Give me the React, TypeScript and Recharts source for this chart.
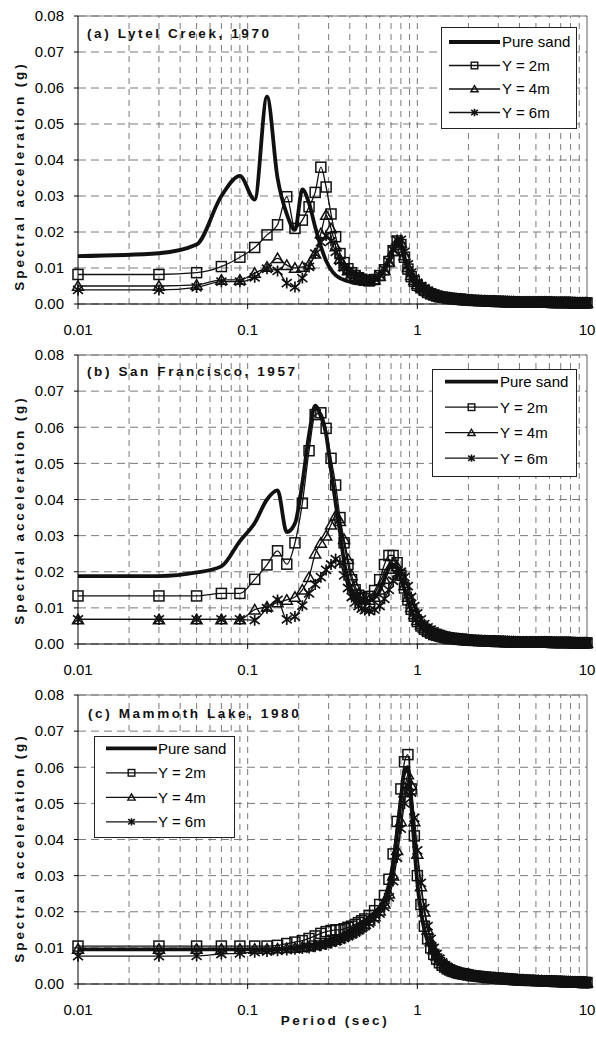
import React from 'react';
import { LineChart, Line, XAxis, YAxis, CartesianGrid, ReferenceLine } from 'recharts';

const FONT = '"Liberation Sans", Arial, Helvetica, sans-serif';

// Periods (sec)
const P_HEAD = [0.01, 0.03, 0.05, 0.07, 0.09, 0.11, 0.13, 0.15, 0.17, 0.19, 0.21, 0.23, 0.25, 0.27, 0.29, 0.31, 0.33, 0.35, 0.37, 0.39, 0.41, 0.43, 0.45, 0.47, 0.49, 0.52, 0.56, 0.6, 0.64, 0.68, 0.72, 0.76, 0.8, 0.84, 0.88, 0.92, 0.96, 1.0];
const P_MID = [1.05, 1.1, 1.15, 1.2, 1.25, 1.3, 1.35, 1.4, 1.45, 1.5, 1.55, 1.6, 1.65, 1.7, 1.75, 1.8, 1.85, 1.9, 1.95, 2];
const P_TAIL = [2.1, 2.2, 2.3, 2.4, 2.5, 2.6, 2.7, 2.8, 2.9, 3, 3.1, 3.2, 3.3, 3.4, 3.5, 3.6, 3.7, 3.8, 3.9, 4, 4.2, 4.4, 4.6, 4.8, 5, 5.2, 5.4, 5.6, 5.8, 6, 6.2, 6.4, 6.6, 6.8, 7, 7.2, 7.4, 7.6, 7.8, 8, 8.2, 8.4, 8.6, 8.8, 9, 9.2, 9.4, 9.6, 9.8, 10];
const PERIODS = [...P_HEAD, ...P_MID, ...P_TAIL];

const X_TICKS = [0.01, 0.1, 1, 10];
const Y_TICKS = [0, 0.01, 0.02, 0.03, 0.04, 0.05, 0.06, 0.07, 0.08];
const X_MINOR = [0.02, 0.03, 0.04, 0.05, 0.06, 0.07, 0.08, 0.09, 0.1, 0.2, 0.3, 0.4, 0.5, 0.6, 0.7, 0.8, 0.9, 1, 2, 3, 4, 5, 6, 7, 8, 9];

const SERIES_NAMES = ['Pure sand', 'Y = 2m', 'Y = 4m', 'Y = 6m'];

// (a) Lytel Creek, 1970  (values 0.01 .. 2.0 s)
const A_SAND = [0.0133, 0.0141, 0.0165, 0.030, 0.0356, 0.029, 0.0576, 0.035, 0.025, 0.0206, 0.0318, 0.028, 0.0214, 0.016, 0.012, 0.0095, 0.008, 0.0072, 0.0067, 0.0063, 0.006, 0.0058, 0.0057, 0.0056, 0.0056, 0.0058, 0.0065, 0.0078, 0.0095, 0.012, 0.015, 0.0172, 0.016, 0.0125, 0.0092, 0.0072, 0.006, 0.0048,
  0.0041, 0.0035, 0.003, 0.0026, 0.0023, 0.0021, 0.0019, 0.0018, 0.0017, 0.0016, 0.0015, 0.0014, 0.0014, 0.0013, 0.0013, 0.0012, 0.0012, 0.0011, 0.0011, 0.001];
const A_Y2 = [0.0082, 0.0082, 0.0087, 0.0104, 0.013, 0.0157, 0.0192, 0.022, 0.0298, 0.021, 0.0233, 0.027, 0.031, 0.038, 0.0325, 0.025, 0.0187, 0.014, 0.0115, 0.0098, 0.0087, 0.0079, 0.0073, 0.0069, 0.0066, 0.0064, 0.0068, 0.0079, 0.0095, 0.0118, 0.0148, 0.0175, 0.0165, 0.013, 0.0097, 0.0076, 0.0063, 0.0052,
  0.0045, 0.0038, 0.0032, 0.0028, 0.0025, 0.0022, 0.002, 0.0019, 0.0018, 0.0017, 0.0016, 0.0015, 0.0014, 0.0014, 0.0013, 0.0013, 0.0012, 0.0012, 0.0011, 0.0011];
const A_Y4 = [0.005, 0.005, 0.0053, 0.0067, 0.0067, 0.0086, 0.0103, 0.0127, 0.0108, 0.01, 0.0103, 0.011, 0.014, 0.0196, 0.0247, 0.021, 0.016, 0.0125, 0.0105, 0.0093, 0.0085, 0.0078, 0.0072, 0.0068, 0.0065, 0.0064, 0.0068, 0.0078, 0.0094, 0.0117, 0.0147, 0.0174, 0.017, 0.0135, 0.0102, 0.008, 0.0066, 0.0055,
  0.0047, 0.004, 0.0034, 0.003, 0.0026, 0.0023, 0.0021, 0.002, 0.0018, 0.0017, 0.0016, 0.0015, 0.0015, 0.0014, 0.0013, 0.0013, 0.0012, 0.0012, 0.0011, 0.0011];
const A_Y6 = [0.0039, 0.0039, 0.0046, 0.0062, 0.0062, 0.0074, 0.0098, 0.0092, 0.0058, 0.0047, 0.0072, 0.0103, 0.014, 0.0172, 0.019, 0.0175, 0.0145, 0.012, 0.0102, 0.0092, 0.0085, 0.0079, 0.0074, 0.007, 0.0068, 0.0067, 0.007, 0.008, 0.0096, 0.0119, 0.015, 0.0178, 0.0178, 0.0145, 0.011, 0.0087, 0.0071, 0.0059,
  0.005, 0.0043, 0.0037, 0.0032, 0.0028, 0.0025, 0.0022, 0.0021, 0.0019, 0.0018, 0.0017, 0.0016, 0.0015, 0.0014, 0.0014, 0.0013, 0.0013, 0.0012, 0.0012, 0.0011];

// (b) San Francisco, 1957
const B_SAND = [0.0188, 0.0188, 0.0198, 0.0215, 0.0285, 0.0335, 0.040, 0.0425, 0.031, 0.0334, 0.0445, 0.058, 0.066, 0.063, 0.058, 0.048, 0.039, 0.031, 0.0228, 0.0177, 0.015, 0.0135, 0.0125, 0.012, 0.0118, 0.012, 0.0128, 0.0148, 0.018, 0.021, 0.022, 0.021, 0.018, 0.015, 0.0118, 0.0092, 0.0072, 0.0058,
  0.0047, 0.0039, 0.0033, 0.0029, 0.0025, 0.0023, 0.0021, 0.0019, 0.0018, 0.0017, 0.0016, 0.0015, 0.0014, 0.0014, 0.0013, 0.0013, 0.0012, 0.0012, 0.0011, 0.0011];
const B_Y2 = [0.0133, 0.0133, 0.0133, 0.014, 0.014, 0.0179, 0.0219, 0.0258, 0.0221, 0.028, 0.039, 0.0535, 0.0635, 0.064, 0.0597, 0.0514, 0.044, 0.035, 0.028, 0.022, 0.0178, 0.015, 0.0135, 0.0128, 0.0126, 0.0132, 0.0148, 0.0178, 0.022, 0.0245, 0.0245, 0.0225, 0.019, 0.0155, 0.0122, 0.0096, 0.0077, 0.0062,
  0.005, 0.0041, 0.0035, 0.003, 0.0026, 0.0024, 0.0022, 0.002, 0.0018, 0.0017, 0.0016, 0.0015, 0.0015, 0.0014, 0.0013, 0.0013, 0.0012, 0.0012, 0.0011, 0.0011];
const B_Y4 = [0.0068, 0.0068, 0.0068, 0.0068, 0.0068, 0.0095, 0.0103, 0.0115, 0.0122, 0.013, 0.015, 0.0185, 0.025, 0.028, 0.03, 0.033, 0.0355, 0.034, 0.029, 0.0235, 0.019, 0.016, 0.014, 0.013, 0.0123, 0.0122, 0.013, 0.015, 0.018, 0.0208, 0.0222, 0.0215, 0.0192, 0.0162, 0.013, 0.0102, 0.0082, 0.0066,
  0.0054, 0.0044, 0.0037, 0.0032, 0.0028, 0.0025, 0.0023, 0.0021, 0.0019, 0.0018, 0.0017, 0.0016, 0.0015, 0.0014, 0.0014, 0.0013, 0.0013, 0.0012, 0.0012, 0.0011];
const B_Y6 = [0.0068, 0.0068, 0.0068, 0.0068, 0.0068, 0.0066, 0.0099, 0.0122, 0.0068, 0.0076, 0.0106, 0.014, 0.0165, 0.0185, 0.0205, 0.022, 0.0235, 0.0225, 0.019, 0.0155, 0.013, 0.0115, 0.0105, 0.0098, 0.0094, 0.0092, 0.0095, 0.0105, 0.0125, 0.015, 0.0175, 0.0195, 0.02, 0.0185, 0.016, 0.013, 0.0105, 0.0085,
  0.0068, 0.0055, 0.0046, 0.004, 0.0035, 0.0031, 0.0028, 0.0025, 0.0023, 0.0021, 0.002, 0.0018, 0.0017, 0.0016, 0.0015, 0.0015, 0.0014, 0.0013, 0.0013, 0.0012];

// (c) Mammoth Lake, 1980
const C_SAND = [0.0096, 0.0096, 0.0096, 0.0096, 0.0096, 0.0096, 0.0096, 0.0097, 0.0098, 0.01, 0.0102, 0.0105, 0.011, 0.0115, 0.012, 0.0125, 0.013, 0.0135, 0.014, 0.0145, 0.015, 0.0155, 0.016, 0.0167, 0.0174, 0.0183, 0.0195, 0.021, 0.0232, 0.027, 0.033, 0.042, 0.051, 0.059, 0.06, 0.05, 0.038, 0.028,
  0.02, 0.015, 0.0118, 0.0095, 0.0078, 0.0066, 0.0057, 0.005, 0.0045, 0.0041, 0.0038, 0.0035, 0.0033, 0.0031, 0.0029, 0.0028, 0.0027, 0.0026, 0.0025, 0.0024];
const C_Y2 = [0.0105, 0.0105, 0.0105, 0.0105, 0.0105, 0.0105, 0.0105, 0.0107, 0.0112, 0.0116, 0.012, 0.0126, 0.0133, 0.014, 0.0145, 0.0148, 0.015, 0.015, 0.0153, 0.0157, 0.016, 0.0165, 0.017, 0.0175, 0.018, 0.019, 0.0203, 0.022, 0.0245, 0.029, 0.036, 0.045, 0.054, 0.0615, 0.0635, 0.054, 0.041, 0.03,
  0.022, 0.016, 0.0125, 0.01, 0.0082, 0.0069, 0.0059, 0.0052, 0.0047, 0.0042, 0.0039, 0.0036, 0.0034, 0.0032, 0.003, 0.0029, 0.0028, 0.0027, 0.0026, 0.0025];
const C_Y4 = [0.0097, 0.0097, 0.0097, 0.0097, 0.0097, 0.0097, 0.0097, 0.0098, 0.0099, 0.01, 0.0102, 0.0104, 0.0107, 0.011, 0.0114, 0.0118, 0.0122, 0.0127, 0.0132, 0.0137, 0.0142, 0.0148, 0.0154, 0.016, 0.0166, 0.0175, 0.0187, 0.0203, 0.0222, 0.025, 0.03, 0.037, 0.045, 0.053, 0.058, 0.055, 0.045, 0.036,
  0.027, 0.02, 0.015, 0.0118, 0.0095, 0.0078, 0.0066, 0.0057, 0.005, 0.0045, 0.0041, 0.0038, 0.0035, 0.0033, 0.0031, 0.003, 0.0028, 0.0027, 0.0026, 0.0025];
const C_Y6 = [0.0077, 0.0077, 0.0078, 0.0083, 0.0085, 0.0088, 0.009, 0.0092, 0.0094, 0.0096, 0.0098, 0.01, 0.0103, 0.0106, 0.011, 0.0114, 0.0118, 0.0122, 0.0127, 0.0132, 0.0137, 0.0142, 0.0148, 0.0154, 0.016, 0.0168, 0.018, 0.0195, 0.0213, 0.024, 0.0285, 0.035, 0.043, 0.05, 0.055, 0.053, 0.046, 0.037,
  0.028, 0.021, 0.016, 0.0125, 0.01, 0.0083, 0.007, 0.006, 0.0052, 0.0047, 0.0043, 0.0039, 0.0036, 0.0034, 0.0032, 0.003, 0.0029, 0.0028, 0.0027, 0.0026];

// Long-period tails (2.1 .. 10 s), where all curves merge
const TAIL_AB = [0.001, 0.001, 0.0009, 0.0009, 0.0009, 0.0008, 0.0008, 0.0008, 0.0007, 0.0007, 0.0007, 0.0007, 0.0006, 0.0006, 0.0006, 0.0006, 0.0006, 0.0005, 0.0005, 0.0005,
  0.0005, 0.0005, 0.0005, 0.0005, 0.0005, 0.0005, 0.0005, 0.0005, 0.0005, 0.0005, 0.0004, 0.0004, 0.0004, 0.0004, 0.0004, 0.0004, 0.0004, 0.0004, 0.0004, 0.0004,
  0.0003, 0.0003, 0.0003, 0.0003, 0.0003, 0.0003, 0.0003, 0.0003, 0.0003, 0.0003];
const TAIL_C = [0.0023, 0.0022, 0.0021, 0.002, 0.0019, 0.0018, 0.0018, 0.0017, 0.0016, 0.0016, 0.0015, 0.0015, 0.0014, 0.0014, 0.0013, 0.0013, 0.0012, 0.0012, 0.0012, 0.0011,
  0.0011, 0.001, 0.001, 0.001, 0.0009, 0.0009, 0.0009, 0.0008, 0.0008, 0.0008, 0.0008, 0.0007, 0.0007, 0.0007, 0.0007, 0.0006, 0.0006, 0.0006, 0.0006, 0.0006,
  0.0005, 0.0005, 0.0005, 0.0005, 0.0005, 0.0005, 0.0004, 0.0004, 0.0004, 0.0004];

const buildRows = (sand: number[], y2: number[], y4: number[], y6: number[], tail: number[]) => {
  const s = sand.concat(tail), a = y2.concat(tail), b = y4.concat(tail), c = y6.concat(tail);
  return PERIODS.map((p, i) => ({ p, sand: s[i], y2: a[i], y4: b[i], y6: c[i] }));
};

const DATA_A = buildRows(A_SAND, A_Y2, A_Y4, A_Y6, TAIL_AB);
const DATA_B = buildRows(B_SAND, B_Y2, B_Y4, B_Y6, TAIL_AB);
const DATA_C = buildRows(C_SAND, C_Y2, C_Y4, C_Y6, TAIL_C);

const INK = '#111';
const GRID = '#7a7a7a';

const marker = (kind: string, x: number, y: number, r: number, key: any, sw = 1.5) => {
  if (kind === 'square') {
    return <rect key={key} x={x - r} y={y - r} width={2 * r} height={2 * r} fill="none" stroke={INK} strokeWidth={sw} />;
  }
  if (kind === 'triangle') {
    const h = r * 1.9;
    return <path key={key} d={`M${x},${y - h * 0.55} L${x + r * 1.1},${y + h * 0.45} L${x - r * 1.1},${y + h * 0.45} Z`} fill="none" stroke={INK} strokeWidth={sw} />;
  }
  // asterisk
  const dx = r * 1.0, dy = r * 0.8;
  return (
    <path key={key} d={`M${x},${y - r * 1.1} L${x},${y + r * 1.1} M${x - dx},${y - dy} L${x + dx},${y + dy} M${x - dx},${y + dy} L${x + dx},${y - dy}`} fill="none" stroke={INK} strokeWidth={sw + 0.2} />
  );
};

const makeDot = (kind: string) => (props: any) => {
  const { cx, cy, index } = props;
  if (cx == null || cy == null || isNaN(cx) || isNaN(cy)) return <g key={`${kind}-${index}`} />;
  return marker(kind, cx, cy, 5, `${kind}-${index}`);
};

const SquareDot = makeDot('square');
const TriangleDot = makeDot('triangle');
const StarDot = makeDot('star');

const fmtX = (v: number) => String(v);
const fmtY = (v: number) => v.toFixed(2);

function Panel({ data, height, bottom }: { data: any[]; height: number; bottom: number }) {
  return (
    <LineChart width={596} height={height} data={data} margin={{ top: 16, right: 9, bottom, left: 0 }}>
      <CartesianGrid vertical={false} stroke={GRID} strokeDasharray="8 5" />
      {X_MINOR.map((v) => (
        <ReferenceLine key={`v${v}`} x={v} stroke={GRID} strokeDasharray="6 5" strokeWidth={1} />
      ))}
      <ReferenceLine y={0.08} stroke={GRID} strokeWidth={1.2} />
      <ReferenceLine x={10} stroke={GRID} strokeWidth={1.2} />
      <XAxis
        dataKey="p"
        type="number"
        scale="log"
        domain={[0.01, 10]}
        ticks={X_TICKS}
        interval={0}
        tickFormatter={fmtX}
        height={36}
        tickSize={5}
        tickMargin={15}
        stroke="#000"
        tick={{ fill: '#000', fontSize: 15, fontFamily: FONT }}
      />
      <YAxis
        type="number"
        domain={[0, 0.08]}
        ticks={Y_TICKS}
        interval={0}
        tickFormatter={fmtY}
        width={78}
        tickSize={4}
        tickMargin={10}
        stroke="#000"
        tick={{ fill: '#000', fontSize: 15, fontFamily: FONT }}
      />
      <Line type="monotone" dataKey="sand" name={SERIES_NAMES[0]} stroke={INK} strokeWidth={3.8} dot={false} activeDot={false} isAnimationActive={false} />
      <Line type="monotone" dataKey="y2" name={SERIES_NAMES[1]} stroke={INK} strokeWidth={1.3} dot={SquareDot} activeDot={false} isAnimationActive={false} />
      <Line type="monotone" dataKey="y4" name={SERIES_NAMES[2]} stroke={INK} strokeWidth={1.3} dot={TriangleDot} activeDot={false} isAnimationActive={false} />
      <Line type="monotone" dataKey="y6" name={SERIES_NAMES[3]} stroke={INK} strokeWidth={1.3} dot={StarDot} activeDot={false} isAnimationActive={false} />
    </LineChart>
  );
}

const KINDS = ['none', 'square', 'triangle', 'star'];

function LegendBox({ x, y, w, h, rows, lx1, lx2, tx }: { x: number; y: number; w: number; h: number; rows: number[]; lx1: number; lx2: number; tx: number }) {
  return (
    <g>
      <rect x={x + 0.5} y={y + 0.5} width={w} height={h} fill="#fff" stroke="#222" strokeWidth={1} />
      {SERIES_NAMES.map((name, i) => {
        const yy = y + rows[i];
        const mid = x + (lx1 + lx2) / 2;
        return (
          <g key={name}>
            <line x1={x + lx1} x2={x + lx2} y1={yy} y2={yy} stroke={INK} strokeWidth={i === 0 ? 3.8 : 1.3} />
            {i > 0 && marker(KINDS[i], mid, yy, 3.3, `lg${i}`, 1.4)}
            <text x={x + tx} y={yy + 5.3} fontSize={15} fontFamily={FONT} fill="#000">{name}</text>
          </g>
        );
      })}
    </g>
  );
}

const TITLE_STYLE = { fontSize: 13.5, fontFamily: FONT, fontWeight: 700, fill: '#111', letterSpacing: 2.6 } as const;

export default function App() {
  const ylab = (cy: number, key: string) => (
    <text key={key} x={23.5} y={cy} transform={`rotate(-90 23.5 ${cy})`} textAnchor="middle" fontSize={13.5} fontFamily={FONT} fontWeight={700} fill="#111" letterSpacing={2.9}>
      Spectral acceleration (g)
    </text>
  );
  return (
    <div style={{ position: 'absolute', left: 0, top: 0, width: 596, height: 1041, background: '#fff', overflow: 'hidden' }}>
      <div style={{ position: 'absolute', left: 0, top: 0 }}>
        <Panel data={DATA_A} height={340} bottom={0} />
      </div>
      <div style={{ position: 'absolute', left: 0, top: 339 }}>
        <Panel data={DATA_B} height={341} bottom={0} />
      </div>
      <div style={{ position: 'absolute', left: 0, top: 679 }}>
        <Panel data={DATA_C} height={362} bottom={21} />
      </div>
      <svg width={596} height={1041} style={{ position: 'absolute', left: 0, top: 0, pointerEvents: 'none' }}>
        <text x={87} y={37.5} {...TITLE_STYLE}>(a) Lytel Creek, 1970</text>
        <text x={87} y={376} {...TITLE_STYLE}>(b) San Francisco, 1957</text>
        <text x={88} y={718} {...TITLE_STYLE}>(c) Mammoth Lake, 1980</text>
        {ylab(176, 'ya')}
        {ylab(510, 'yb')}
        {ylab(848, 'yc')}
        <text x={335} y={1024.5} textAnchor="middle" fontSize={13.5} fontFamily={FONT} fontWeight={700} fill="#111" letterSpacing={2.6}>
          Period (sec)
        </text>
        <LegendBox x={441} y={27} w={135} h={101} rows={[15, 38.5, 62, 85.5]} lx1={8} lx2={59} tx={61} />
        <LegendBox x={432} y={369} w={144} h={107} rows={[12.7, 38.2, 63.7, 89.2]} lx1={13} lx2={66} tx={68} />
        <LegendBox x={94} y={736} w={140} h={101} rows={[12.3, 36.8, 61.3, 85.8]} lx1={12} lx2={63} tx={64} />
      </svg>
    </div>
  );
}
